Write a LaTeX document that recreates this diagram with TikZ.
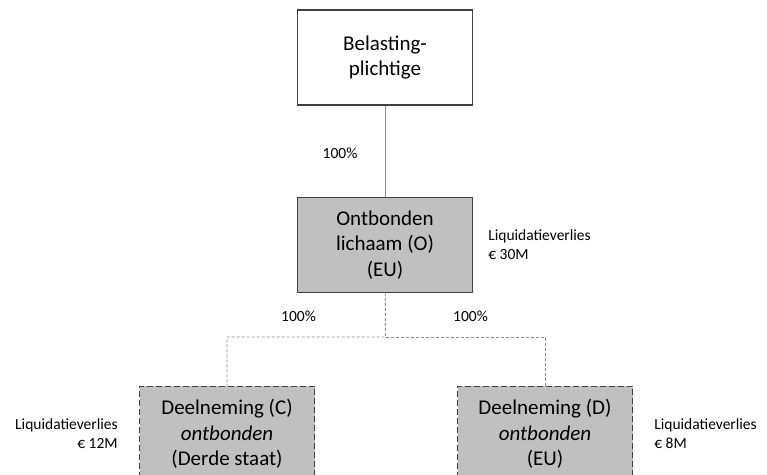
\documentclass[tikz,border=0pt]{standalone}
\usepackage{fontspec}
\setmainfont{Carlito}
\usetikzlibrary{positioning}
\definecolor{boxgray}{HTML}{C0C0C0}
\definecolor{edgegray}{HTML}{404040}
\definecolor{linegray}{HTML}{8C8C8C}
\begin{document}
\begin{tikzpicture}[x=1pt, y=-1pt,
  entity/.style={draw=edgegray, line width=1.2pt, minimum width=175pt, minimum height=95pt, align=center, inner sep=0pt, font=\fontsize{21}{25.5}\selectfont},
  dissolved/.style={entity, fill=boxgray},
  participation/.style={dissolved, dash pattern=on 6pt off 3pt},
  note/.style={inner sep=0pt, font=\fontsize{15.5}{18.5}\selectfont},
  share/.style={inner sep=0pt, font=\fontsize{15.5}{18.5}\selectfont}]
  \useasboundingbox (0,0) rectangle (767,474);
  \clip (0,0) rectangle (767,474);

  \node[entity] (B) at (385,57.5) {Belasting-\\plichtige};
  \node[dissolved, below=91pt of B] (O) {Ontbonden\\lichaam (O)\\(EU)};
  \node[participation, below=93pt of O, xshift=-158pt] (C) {Deelneming (C)\\\textit{ontbonden}\\(Derde staat)};
  \node[participation, below=93pt of O, xshift=160pt] (D) {Deelneming (D)\\\textit{ontbonden}\\(EU)};
  \coordinate (fork) at (385.5,337);

  \path[draw=linegray, line width=1pt] (B) -- (O);
  \path[draw=linegray, line width=0.9pt, dash pattern=on 3pt off 2pt] (O) -- (fork) -| (C);
  \path[draw=linegray, line width=0.9pt, dash pattern=on 3pt off 2pt] (fork) -| (D);

  \node[share] (pB) at (340,153) {100\%};
  \node[share] (pC) at (298.5,316) {100\%};
  \node[share] (pD) at (470.5,316) {100\%};

  \node[note, align=left, right=15pt of O] (lO) {Liquidatieverlies\\€ 30M};
  \node[note, align=right, left=21pt of C] (lC) {Liquidatieverlies\\€ 12M};
  \node[note, align=left, right=21pt of D] (lD) {Liquidatieverlies\\€ 8M};
\end{tikzpicture}
\end{document}
